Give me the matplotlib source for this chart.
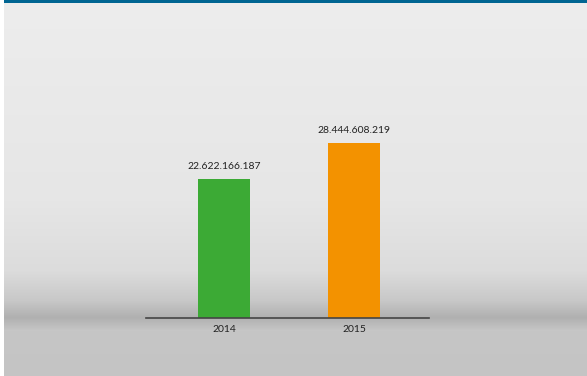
import matplotlib.pyplot as plt
import numpy as np

years = ['2014', '2015']
values = [22622166187, 28444608219]
labels = ['22.622.166.187', '28.444.608.219']
colors = ['#3caa35', '#f39200']

plt.rcParams['font.family'] = ['Lato', 'DejaVu Sans']

W, H = 587, 376
fig = plt.figure(figsize=(W / 100, H / 100), dpi=100)

# background gradient (pixel rows -> grey level)
bg = fig.add_axes([0, 0, 1, 1])
rows = np.arange(H)
stops_y = [0, 200, 270, 300, 317, 330, 376]
stops_c = [237, 230, 220, 200, 176, 198, 196]
grey = np.interp(rows, stops_y, stops_c) / 255.0
img = np.repeat(grey[:, None], W, axis=1)
img = np.dstack([img, img, img])
img[:, :4] = 1.0  # white strip on left
img[:3, 4:] = np.array([0, 101, 146]) / 255.0  # blue top rule
bg.imshow(img, aspect='auto', extent=[0, W, H, 0], interpolation='bilinear')
bg.set_axis_off()

# chart area in pixels: x 146..429, baseline at y=318
left, right, base, top = 146, 429, 318, 20
ax = fig.add_axes([left / W, (H - base) / H, (right - left) / W, (base - top) / H])
ax.patch.set_alpha(0)

x = np.arange(len(years))
ax.bar(x, values, width=0.4, color=colors, zorder=2)
for xi, v, lab in zip(x, values, labels):
    ax.annotate(lab, (xi, v), xytext=(0, 6), textcoords='offset points',
                ha='center', va='bottom', fontsize=7.5, color='#222222')

ax.set_xlim(-0.6, 1.577)
ax.set_ylim(0, values[0] * (base - top) / 139)
ax.set_xticks(x)
ax.set_xticklabels(years, fontsize=7.5, color='#222222')
ax.tick_params(axis='x', length=0, pad=5)
ax.set_yticks([])
for s in ['top', 'right', 'left']:
    ax.spines[s].set_visible(False)
ax.spines['bottom'].set_color('#444444')
ax.spines['bottom'].set_linewidth(1.2)

fig.savefig('out.png', dpi=100)
